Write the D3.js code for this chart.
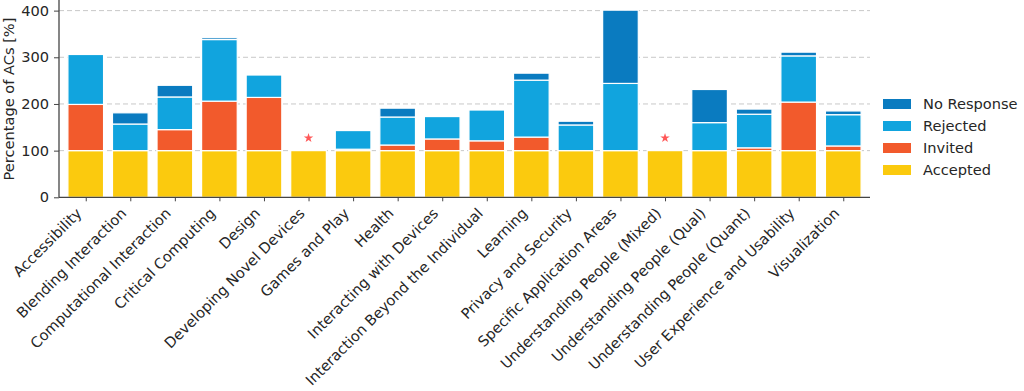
<!DOCTYPE html>
<html>
<head>
  <title>Percentage of ACs by subcommittee</title>
  <script src="https://d3js.org/d3.v7.min.js"></script>
  <style>
    body { margin: 0; background: #fff; }
    text { font-family: "DejaVu Sans", sans-serif; fill: #262626; }
  </style>
</head>
<body>
  <svg id="chart" width="1024" height="391"></svg>
  <script>
    const categories = [
      "Accessibility", "Blending Interaction", "Computational Interaction",
      "Critical Computing", "Design", "Developing Novel Devices", "Games and Play",
      "Health", "Interacting with Devices", "Interaction Beyond the Individual",
      "Learning", "Privacy and Security", "Specific Application Areas",
      "Understanding People (Mixed)", "Understanding People (Qual)",
      "Understanding People (Quant)", "User Experience and Usability", "Visualization"
    ];
    const accepted   = [100, 100, 100, 100, 100, 100, 100, 100, 100, 100, 100, 100, 100, 100, 100, 100, 100, 100];
    const invited    = [99, 0, 45, 106, 114, 0, 3, 12, 25, 21, 29, 0, 0, 0, 0, 6, 104, 10];
    const rejected   = [107, 57, 70, 132, 48, 0, 40, 60, 48, 66, 122, 55, 144, 0, 60, 72, 99, 67];
    const noResponse = [0, 24, 25, 4, 0, 0, 0, 19, 0, 0, 15, 8, 157, 0, 71, 11, 8, 8];
    // categories with no data beyond accepted get a marker
    const markedIdx = [5, 13];
    const markerValue = 127;
    const yTicks = [0, 100, 200, 300, 400];

    const seriesNames = ["Accepted", "Invited", "Rejected", "No Response"];
    const colors = {
      "Accepted": "#fbca0e",
      "Invited": "#f25a2c",
      "Rejected": "#11a4de",
      "No Response": "#0a7bc0"
    };
    const fontSize = "14.6px";

    const svg = d3.select("#chart");
    const plotLeft = 59, plotRight = 870, plotTop = 1, plotBottom = 197.3;

    const x = d3.scaleLinear().domain([-0.6, categories.length - 0.4]).range([plotLeft, plotRight]);
    const y = d3.scaleLinear().domain([0, 420.6]).range([plotBottom, plotTop]);
    const barW = x(0.8) - x(0);

    // grid
    svg.append("g")
      .selectAll("line")
      .data(yTicks.slice(1))
      .join("line")
      .attr("x1", plotLeft).attr("x2", plotRight)
      .attr("y1", d => y(d)).attr("y2", d => y(d))
      .attr("stroke", "#c8c8c8")
      .attr("stroke-width", 1)
      .attr("stroke-dasharray", "5,3");

    // stacked data
    const table = categories.map((c, i) => ({
      cat: c, i: i,
      "Accepted": accepted[i], "Invited": invited[i],
      "Rejected": rejected[i], "No Response": noResponse[i]
    }));
    const stack = d3.stack().keys(seriesNames)(table);

    svg.append("g")
      .selectAll("g")
      .data(stack)
      .join("g")
      .attr("fill", d => colors[d.key])
      .selectAll("rect")
      .data(d => d.filter(s => s[1] - s[0] > 0))
      .join("rect")
      .attr("x", d => x(d.data.i) - barW / 2)
      .attr("width", barW)
      .attr("y", d => y(d[1]))
      .attr("height", d => y(d[0]) - y(d[1]))
      .attr("stroke", "#fff")
      .attr("stroke-width", 1.2);

    // markers
    svg.append("g")
      .selectAll("path")
      .data(markedIdx)
      .join("path")
      .attr("d", d3.symbol().type(d3.symbolStar).size(28))
      .attr("transform", d => `translate(${x(d)},${y(markerValue)})`)
      .attr("fill", "#ff3b3b")
      .attr("opacity", 0.85);

    // y axis
    const yAxis = svg.append("g")
      .attr("transform", `translate(${plotLeft},0)`)
      .call(d3.axisLeft(y).tickValues(yTicks).tickSize(5).tickPadding(5));
    yAxis.select(".domain").attr("stroke", "#444").attr("stroke-width", 1.3)
      .attr("d", `M0,${plotBottom}V0`);
    yAxis.selectAll(".tick line").attr("stroke", "#444");
    yAxis.selectAll("text").style("font-size", fontSize).attr("fill", "#262626");

    // x axis
    const xAxis = svg.append("g")
      .attr("transform", `translate(0,${plotBottom})`)
      .call(d3.axisBottom(x).tickValues(d3.range(categories.length))
        .tickFormat(i => categories[i]).tickSize(4));
    xAxis.select(".domain").attr("stroke", "#444").attr("stroke-width", 1.3)
      .attr("d", `M${plotLeft},0H${plotRight}`);
    xAxis.selectAll(".tick line").attr("stroke", "#444");
    xAxis.selectAll("text")
      .style("font-size", fontSize)
      .attr("fill", "#262626")
      .attr("text-anchor", "end")
      .attr("y", 0)
      .attr("dy", 0)
      .attr("transform", "translate(-3.5,17) rotate(-45)");

    // y label
    svg.append("text")
      .attr("transform", `translate(14,99) rotate(-90)`)
      .attr("text-anchor", "middle")
      .style("font-size", fontSize)
      .text("Percentage of ACs [%]");

    // legend
    const legend = svg.append("g").attr("transform", "translate(883,104)");
    const legendOrder = seriesNames.slice().reverse();
    legendOrder.forEach((name, k) => {
      const g = legend.append("g").attr("transform", `translate(0,${k * 22})`);
      g.append("rect").attr("x", 0).attr("y", -5).attr("width", 28).attr("height", 10)
        .attr("fill", colors[name]);
      g.append("text").attr("x", 40).attr("y", 0).attr("dy", "0.35em")
        .style("font-size", fontSize).text(name);
    });
  </script>
</body>
</html>
